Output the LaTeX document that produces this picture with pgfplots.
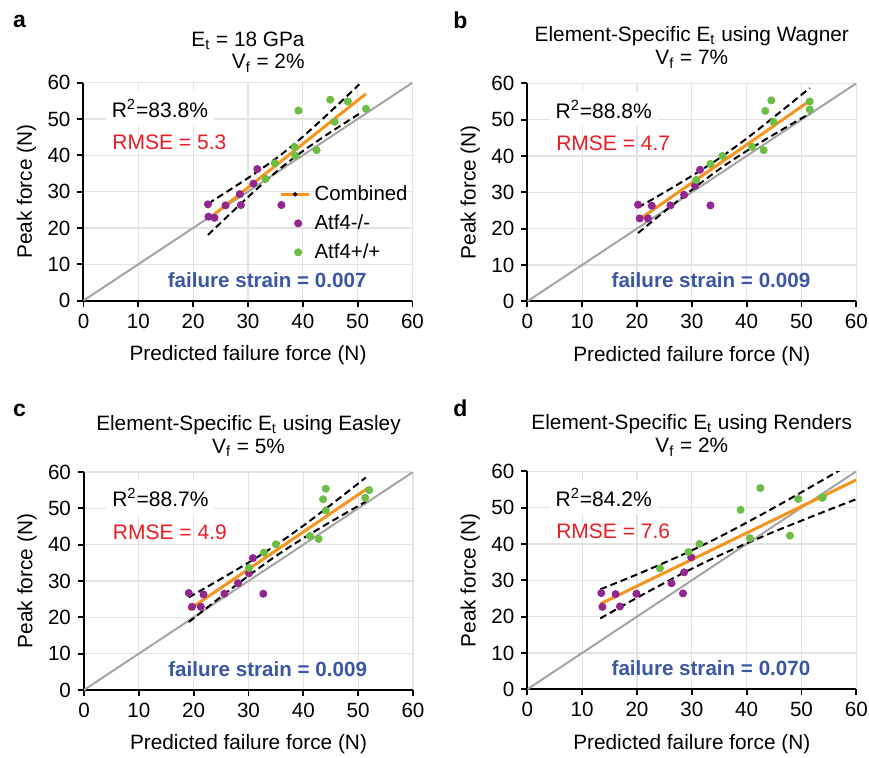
\documentclass[border=0pt]{standalone}
\usepackage{fontspec}
\setmainfont{Liberation Sans}
\usepackage{pgfplots}
\pgfplotsset{compat=1.18}
\definecolor{fitorange}{RGB}{247,148,30}
\definecolor{atfpurple}{RGB}{146,39,143}
\definecolor{atfgreen}{RGB}{109,190,69}
\definecolor{fsblue}{RGB}{59,87,164}
\definecolor{rmsered}{RGB}{237,28,36}
\definecolor{idgray}{RGB}{165,165,165}

\pgfplotsset{
  panel/.style={
    scale only axis, width=164.5pt, height=109pt,
    xmin=0, xmax=60, ymin=0, ymax=60,
    xtick={0,10,...,60}, ytick={0,10,...,60},
    axis x line*=bottom, axis y line*=left,
    axis line style={-, black, line width=1pt},
    grid=major, grid style={draw=gray!22, line width=0.6pt},
    tick align=outside, major tick length=3pt,
    tick style={black, line width=0.9pt},
    tick label style={font=\fontsize{10.3}{12}\selectfont},
    /pgf/number format/assume math mode=true,
    xlabel={Predicted failure force (N)},
    ylabel={Peak force (N)},
    label style={font=\fontsize{10.4}{12}\selectfont},
    xlabel style={at={(axis description cs:0.5,-0.275)}, anchor=base},
    ylabel style={at={(axis description cs:-0.157,0.5)}, anchor=base},
    title style={font=\fontsize{10.4}{11.4}\selectfont, align=center,
      at={(axis description cs:0.5,1)}, anchor=south, yshift=-2pt},
  },
  pur/.style={only marks, mark=*, mark size=1.8pt, color=atfpurple},
  grn/.style={only marks, mark=*, mark size=1.8pt, color=atfgreen},
  idline/.style={idgray, line width=1pt, forget plot},
  fitline/.style={fitorange, line width=1.5pt, forget plot},
  band/.style={black, line width=1pt, dash pattern=on 3.5pt off 2pt, smooth, forget plot},
}
\newcommand{\rsq}[2]{\node[anchor=west, fill=white, inner xsep=3pt, inner ysep=4pt,
  font=\fontsize{10.5}{12}\selectfont] at (axis cs:4.0,52.9) {R\textsuperscript{2}=#1\%};
  \node[anchor=west, text=rmsered, font=\fontsize{10.5}{12}\selectfont] at (axis cs:4.0,43.5) {RMSE = #2};}
\newcommand{\fstrain}[1]{\node[text=fsblue, font=\fontsize{10.3}{12}\selectfont\bfseries]
  at (axis cs:33.5,5.7) {failure strain = #1};}

\begin{document}
\begin{tikzpicture}
\useasboundingbox (0,0) rectangle (434.5pt,378.5pt);

% ---------- a ----------
\begin{axis}[panel, at={(41.75pt,228.2pt)}, anchor=south west,
  title style={align=right, yshift=-2.5pt},
  title={E\textsubscript{t} = 18 GPa\\V\textsubscript{f} = 2\%},
  legend style={draw=none, fill=none, at={(axis cs:61,34)}, anchor=north east,
    font=\fontsize{10.2}{12}\selectfont, row sep=1.6pt},
  legend cell align=left]
  \addlegendimage{legend image code/.code={
    \draw[fitorange, line width=1.5pt] (0pt,0pt) -- (14pt,0pt);
    \fill[black] (7pt,0pt) circle (0.9pt);}}
  \addlegendentry{Combined}
  \addplot[idline] coordinates {(0,0) (60,60)};
  \addplot[pur] coordinates {(22.7,26.5) (22.8,23.1) (23.9,22.8) (25.9,26.2) (28.7,26.3)
    (28.5,29.3) (31.0,32.2) (31.7,36.2) (36.1,26.3)};
  \addlegendentry{Atf4-/-}
  \addplot[grn] coordinates {(33.2,33.5) (34.9,37.8) (38.5,42.3) (38.6,39.9) (39.2,52.3)
    (42.5,41.4) (45.0,55.3) (45.8,49.2) (48.2,54.8) (51.5,52.8)};
  \addlegendentry{Atf4+/+}
  \addplot[band] coordinates {(22.7,26.66) (26,29.82) (30,33.75) (34,37.90) (37,41.32)
    (40,45.10) (44,50.55) (48,56.22) (50.3,59.53)};
  \addplot[band] coordinates {(22.7,18.06) (26,22.82) (30,28.49) (34,33.94) (37,37.72)
    (40,41.14) (44,45.29) (48,49.22) (50.3,51.43)};
  \addplot[fitline] coordinates {(23.2,22.96) (51.5,56.92)};
  \rsq{83.8}{5.3}
  \fstrain{0.007}
\end{axis}

% ---------- b ----------
\begin{axis}[panel, at={(263.65pt,227.85pt)}, anchor=south west,
  title={Element-Specific E\textsubscript{t} using Wagner\\V\textsubscript{f} = 7\%}]
  \addplot[idline] coordinates {(0,0) (60,60)};
  \addplot[pur] coordinates {(20.2,26.6) (20.5,22.8) (22.0,22.8) (22.7,26.3) (26.1,26.4)
    (28.6,29.3) (30.6,31.8) (31.5,36.2) (33.4,26.4)};
  \addplot[grn] coordinates {(30.8,33.4) (33.4,37.8) (35.6,40.0) (41.0,42.5) (43.1,41.6)
    (43.4,52.4) (44.5,55.3) (44.9,49.4) (51.5,55.0) (51.5,52.8)};
  \addplot[band] coordinates {(20.2,25.80) (24,29.11) (28,32.67) (32,36.38) (36,40.39)
    (40,44.81) (44,49.53) (48,54.38) (51.5,58.69)};
  \addplot[band] coordinates {(20.2,18.80) (24,23.47) (28,28.31) (32,33.00) (36,37.39)
    (40,41.37) (44,45.05) (48,48.60) (51.5,51.65)};
  \addplot[fitline] coordinates {(20.2,22.30) (51.5,55.17)};
  \rsq{88.8}{4.7}
  \fstrain{0.009}
\end{axis}

% ---------- c ----------
\begin{axis}[panel, at={(42pt,33.5pt)}, anchor=south west,
  title={Element-Specific E\textsubscript{t} using Easley\\V\textsubscript{f} = 5\%}]
  \addplot[idline] coordinates {(0,0) (60,60)};
  \addplot[pur] coordinates {(19.1,26.7) (19.7,22.9) (21.3,22.9) (21.8,26.3) (25.6,26.5)
    (28.1,29.4) (30.1,32.1) (30.8,36.3) (32.7,26.5)};
  \addplot[grn] coordinates {(30.1,33.6) (32.8,37.8) (35.0,40.1) (41.2,42.4) (42.8,41.6)
    (43.6,52.5) (44.1,55.4) (44.1,49.4) (51.3,52.9) (52.0,55.0)};
  \addplot[band] coordinates {(19.1,25.50) (23,28.86) (27,32.37) (31,36.00) (35.5,40.39)
    (40,45.22) (44,49.78) (48,54.46) (51.4,58.49)};
  \addplot[band] coordinates {(19.1,18.70) (23,23.32) (27,28.01) (31,32.56) (35.5,37.39)
    (40,41.78) (44,45.42) (48,48.92) (51.4,51.85)};
  \addplot[fitline] coordinates {(19.1,22.10) (52.0,55.79)};
  \rsq{88.7}{4.9}
  \fstrain{0.009}
\end{axis}

% ---------- d ----------
\begin{axis}[panel, at={(263.65pt,33.85pt)}, anchor=south west,
  title={Element-Specific E\textsubscript{t} using Renders\\V\textsubscript{f} = 2\%}]
  \addplot[idline] coordinates {(0,0) (60,60)};
  \addplot[pur] coordinates {(13.5,26.5) (13.7,22.7) (16.1,26.2) (16.9,22.8) (19.9,26.3)
    (26.3,29.2) (28.4,26.4) (28.6,32.2) (29.9,36.3)};
  \addplot[grn] coordinates {(24.2,33.3) (29.4,37.8) (31.4,40.0) (38.9,49.4) (40.6,41.6)
    (42.5,55.4) (47.9,42.3) (49.4,52.4) (53.8,52.7) (53.9,52.9)};
  \addplot[band] coordinates {(13.3,27.50) (18,30.36) (23,33.53) (28,36.84) (32,39.67)
    (36,42.69) (41,46.69) (46,50.83) (51,55.10) (56,59.44) (60,62.94)};
  \addplot[band] coordinates {(13.3,19.50) (18,23.52) (23,27.65) (28,31.66) (32,34.67)
    (36,37.51) (41,40.81) (46,43.99) (51,47.02) (56,50.00) (60,52.34)};
  \addplot[fitline] coordinates {(13.3,23.50) (60,57.64)};
  \rsq{84.2}{7.6}
  \fstrain{0.070}
\end{axis}

% panel letters
\node[anchor=base west, font=\fontsize{11.5}{13}\selectfont\bfseries, inner sep=0pt] at (6.3pt,364.5pt) {a};
\node[anchor=base west, font=\fontsize{11.5}{13}\selectfont\bfseries, inner sep=0pt] at (226.5pt,364.2pt) {b};
\node[anchor=base west, font=\fontsize{11.5}{13}\selectfont\bfseries, inner sep=0pt] at (6.3pt,170.5pt) {c};
\node[anchor=base west, font=\fontsize{11.5}{13}\selectfont\bfseries, inner sep=0pt] at (226.5pt,170.5pt) {d};
\end{tikzpicture}
\end{document}
